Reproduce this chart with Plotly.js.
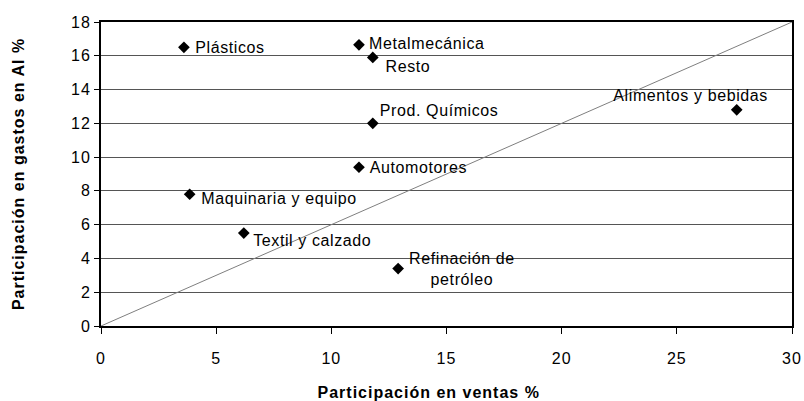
<!DOCTYPE html>
<html>
<head>
<meta charset="utf-8">
<script src="https://cdn.plot.ly/plotly-3.0.1.min.js"></script>
<style>
html,body{margin:0;padding:0;background:#fff;}
#chart{width:804px;height:401px;}
#chart .xtick text, #chart .ytick text{letter-spacing:1px;}
#chart .annotation-text{letter-spacing:0.6px;}
#chart .ytitle{letter-spacing:1px;}
#chart .annotation:last-child .annotation-text{letter-spacing:1px;}
</style>
</head>
<body>
<div id="chart"></div>
<script>
// Data
const sectors = ["Plásticos","Metalmecánica","Resto","Prod. Químicos","Automotores","Alimentos y bebidas","Maquinaria y equipo","Textil y calzado","Refinación de<br>petróleo"];
const ventas = [3.6, 11.2, 11.8, 11.8, 11.2, 27.6, 3.85, 6.2, 12.9];
const gastosAI = [16.5, 16.65, 15.9, 12.0, 9.4, 12.8, 7.8, 5.5, 3.4];
const diagX = [0, 30];
const diagY = [0, 18];
const xTicks = [0, 5, 10, 15, 20, 25, 30];
const yTicks = [0, 2, 4, 6, 8, 10, 12, 14, 16, 18];
const xTitle = "Participación en ventas %";
const yTitle = "Participación en gastos en AI %";

// label placement (style only)
const labelStyle = [
  {xanchor:"left", xshift:12, yshift:0},
  {xanchor:"left", xshift:12, yshift:1},
  {xanchor:"left", xshift:12, yshift:-9},
  {xanchor:"left", xshift:9, yshift:13},
  {xanchor:"left", xshift:12, yshift:0},
  {xanchor:"center", xshift:-46, yshift:14},
  {xanchor:"left", xshift:15, yshift:-4},
  {xanchor:"left", xshift:12, yshift:-7},
  {xanchor:"center", xshift:64, yshift:0}
];

const font = "Liberation Sans, Arial, sans-serif";

const traces = [
  {x: diagX, y: diagY, type: "scatter", mode: "lines",
   line: {color: "#7f7f7f", width: 1}, hoverinfo: "skip", showlegend: false},
  {x: ventas, y: gastosAI, type: "scatter", mode: "markers", text: sectors,
   marker: {symbol: "diamond", size: 9, color: "#000"}, showlegend: false}
];

const annotations = sectors.map((s, i) => ({
  x: ventas[i], y: gastosAI[i], xref: "x", yref: "y", text: s, showarrow: false,
  xanchor: labelStyle[i].xanchor, yanchor: "middle",
  xshift: labelStyle[i].xshift, yshift: labelStyle[i].yshift,
  font: {family: font, size: 16, color: "#000"}, align: "center"
}));
annotations.push({
  x: 0.5, y: 0, xref: "paper", yref: "paper", text: xTitle, showarrow: false,
  xanchor: "center", yanchor: "middle", xshift: -18, yshift: -66,
  font: {family: font, size: 16, color: "#000", weight: "bold"}
});

const layout = {
  width: 804, height: 401,
  margin: {l: 101, r: 12, t: 22, b: 75},
  paper_bgcolor: "#fff", plot_bgcolor: "#fff",
  font: {family: font, color: "#000"},
  xaxis: {
    range: [0, 30], tickvals: xTicks, ticktext: xTicks.map(String),
    showgrid: false, zeroline: false,
    showline: true, mirror: true, linecolor: "#000", linewidth: 2,
    ticks: "outside", ticklen: 6, tickcolor: "#000", tickwidth: 1,
    ticklabelstandoff: 11,
    tickfont: {family: font, size: 16, color: "#000"}
  },
  yaxis: {
    range: [0, 18], tickvals: yTicks, ticktext: yTicks.map(String),
    showgrid: true, gridcolor: "#555", gridwidth: 1, zeroline: false,
    showline: true, mirror: true, linecolor: "#000", linewidth: 2,
    ticks: "outside", ticklen: 5, tickcolor: "#000", tickwidth: 1,
    tickfont: {family: font, size: 16, color: "#000"},
    title: {text: yTitle, font: {family: font, size: 16, color: "#000", weight: "bold"}, standoff: 44}
  },
  annotations: annotations,
  hovermode: false
};

Plotly.newPlot("chart", traces, layout, {displayModeBar: false, staticPlot: true});
</script>
</body>
</html>
